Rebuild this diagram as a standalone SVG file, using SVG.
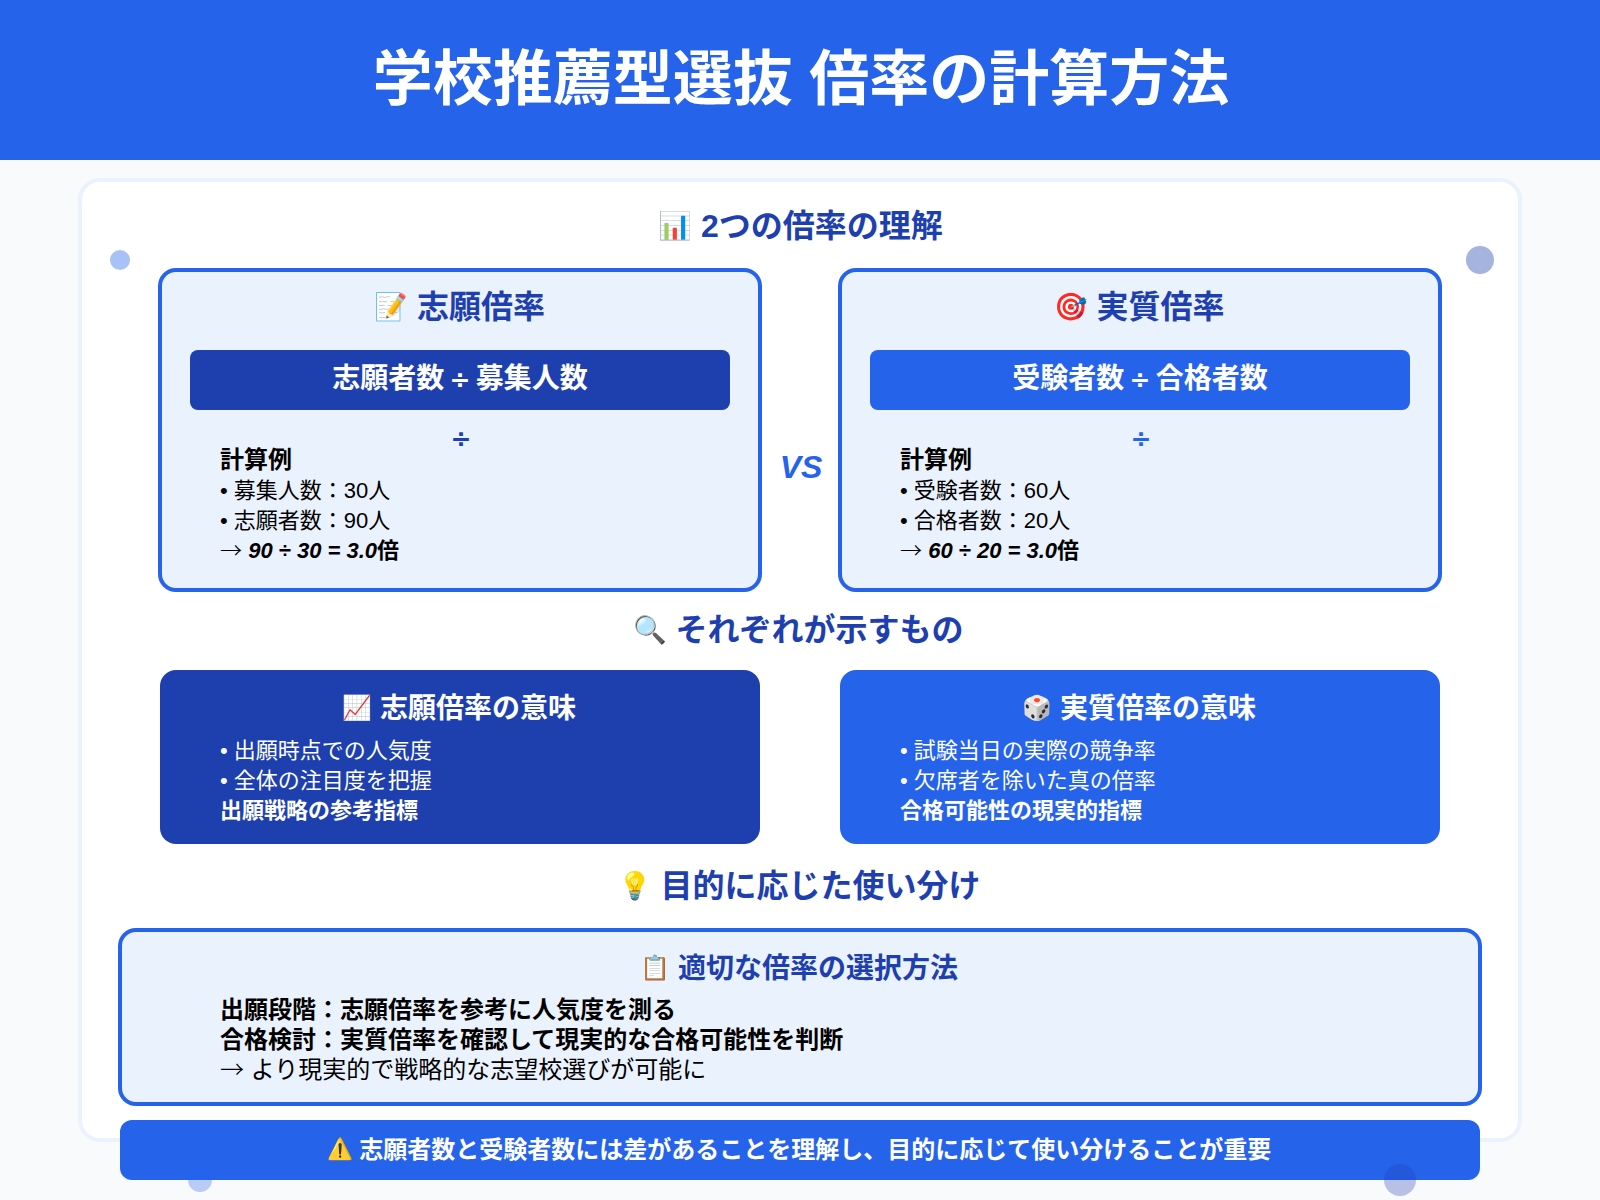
<svg xmlns="http://www.w3.org/2000/svg" width="1600" height="1200" viewBox="0 0 1600 1200">
<style>
text{font-family:"Liberation Sans","Noto Sans CJK JP",sans-serif}
.h{font-weight:700;fill:#1e40af;font-size:32px}
.h2{font-weight:700;fill:#1e40af;font-size:28px}
.c{text-anchor:middle}
.b{font-size:22px;fill:#000}
.w{font-size:22px;fill:#fff}
.f{font-weight:700;font-size:28px;fill:#fff}
.wh{font-weight:700;font-size:28px;fill:#fff}
.bd{font-weight:700}
.it{font-weight:700;font-style:italic}
.card{fill:#eaf2fe;stroke:#2563eb;stroke-width:4}
.e{font-size:27px}
.e2{font-size:24px}
.ar{font-family:"Noto Sans CJK JP",sans-serif;font-weight:300}
.dv{font-family:"DejaVu Sans",sans-serif;font-weight:700;font-size:25px}
</style>
<rect width="1600" height="1200" fill="#f8fafc"/>
<g id="header"><rect width="1600" height="160" fill="#2563eb"/>
<text x="801" y="100" class="c bd" font-size="60" fill="#fff">学校推薦型選抜 倍率の計算方法</text></g>
<rect id="panel" x="80" y="180" width="1440" height="960" rx="20" fill="#fff" stroke="#eaf2fe" stroke-width="4"/>
<g id="title-ratios"><text x="800.5" y="237" class="h c"><tspan class="e" dy="-2">📊</tspan><tspan dy="2"> 2つの倍率の理解</tspan></text></g>
<g id="card-applicant"><rect class="card" x="160" y="270" width="600" height="320" rx="16"/>
<text x="459.5" y="318" class="h c"><tspan class="e" dy="-2">📝</tspan><tspan dy="2"> 志願倍率</tspan></text>
<rect x="190" y="350" width="540" height="60" rx="8" fill="#1e40af"/>
<text x="460" y="388" class="c f">志願者数 <tspan class="dv" dx="-2.5">÷</tspan><tspan dx="-2.5"> 募集人数</tspan></text>
<text x="461" y="447" class="c dv" fill="#1e40af">÷</text>
<text x="220" y="468" class="bd" font-size="24" fill="#000">計算例</text>
<text x="220" y="497.5" class="b">• 募集人数：30人</text>
<text x="220" y="527.5" class="b">• 志願者数：90人</text>
<text x="220" y="558" class="b"><tspan class="ar">→</tspan> <tspan class="it">90 ÷ 30 = 3.0</tspan><tspan class="bd">倍</tspan></text></g>
<g id="vs"><text x="801" y="478" class="c it" font-size="32" fill="#2563eb">VS</text></g>
<g id="card-actual"><rect class="card" x="840" y="270" width="600" height="320" rx="16"/>
<text x="1139" y="318" class="h c"><tspan class="e" dy="-2">🎯</tspan><tspan dy="2"> 実質倍率</tspan></text>
<rect x="870" y="350" width="540" height="60" rx="8" fill="#2563eb"/>
<text x="1140" y="388" class="c f">受験者数 <tspan class="dv" dx="-2.5">÷</tspan><tspan dx="-2.5"> 合格者数</tspan></text>
<text x="1141" y="447" class="c dv" fill="#2563eb">÷</text>
<text x="900" y="468" class="bd" font-size="24" fill="#000">計算例</text>
<text x="900" y="497.5" class="b">• 受験者数：60人</text>
<text x="900" y="527.5" class="b">• 合格者数：20人</text>
<text x="900" y="558" class="b"><tspan class="ar">→</tspan> <tspan class="it">60 ÷ 20 = 3.0</tspan><tspan class="bd">倍</tspan></text></g>
<g id="title-meaning"><text x="798" y="641" class="h c"><tspan class="e" dy="-2">🔍</tspan><tspan dy="2"> それぞれが示すもの</tspan></text></g>
<g id="meaning-applicant"><rect x="160" y="670" width="600" height="174" rx="16" fill="#1e40af"/>
<text x="459" y="718" class="c wh"><tspan class="e2" dy="-2">📈</tspan><tspan dy="2"> 志願倍率の意味</tspan></text>
<text x="220" y="757.5" class="w">• 出願時点での人気度</text>
<text x="220" y="787.5" class="w">• 全体の注目度を把握</text>
<text x="220" y="818" class="w bd">出願戦略の参考指標</text></g>
<g id="meaning-actual"><rect x="840" y="670" width="600" height="174" rx="16" fill="#2563eb"/>
<text x="1139" y="718" class="c wh"><tspan class="e2" dy="-2">🎲</tspan><tspan dy="2"> 実質倍率の意味</tspan></text>
<text x="900" y="757.5" class="w">• 試験当日の実際の競争率</text>
<text x="900" y="787.5" class="w">• 欠席者を除いた真の倍率</text>
<text x="900" y="818" class="w bd">合格可能性の現実的指標</text></g>
<g id="title-usage"><text x="799" y="897" class="h c"><tspan class="e" dy="-2">💡</tspan><tspan dy="2"> 目的に応じた使い分け</tspan></text></g>
<g id="usage"><rect class="card" x="120" y="930" width="1360" height="174" rx="16"/>
<text x="799" y="978" class="h2 c"><tspan class="e2" dy="-2">📋</tspan><tspan dy="2"> 適切な倍率の選択方法</tspan></text>
<text x="220" y="1018" class="bd" font-size="24" fill="#000">出願段階：志願倍率を参考に人気度を測る</text>
<text x="220" y="1048" class="bd" font-size="24" fill="#000">合格検討：実質倍率を確認して現実的な合格可能性を判断</text>
<text x="220" y="1078" font-size="24" fill="#000"><tspan class="ar">→</tspan> より現実的で戦略的な志望校選びが可能に</text></g>
<g id="banner"><rect x="120" y="1120" width="1360" height="60" rx="12" fill="#2563eb"/>
<text x="799" y="1157.5" class="c bd" font-size="24" fill="#fff"><tspan font-size="21px" dy="-2">⚠️</tspan><tspan dy="2"> 志願者数と受験者数には差があることを理解し、目的に応じて使い分けることが重要</tspan></text></g>
<g id="deco"><circle cx="120" cy="260" r="10" fill="#2563eb" opacity=".4"/><circle cx="1480" cy="260" r="14" fill="#1e40af" opacity=".4"/><circle cx="200" cy="1180" r="12" fill="#2563eb" opacity=".3"/><circle cx="1400" cy="1180" r="16" fill="#1e40af" opacity=".3"/></g>
</svg>
